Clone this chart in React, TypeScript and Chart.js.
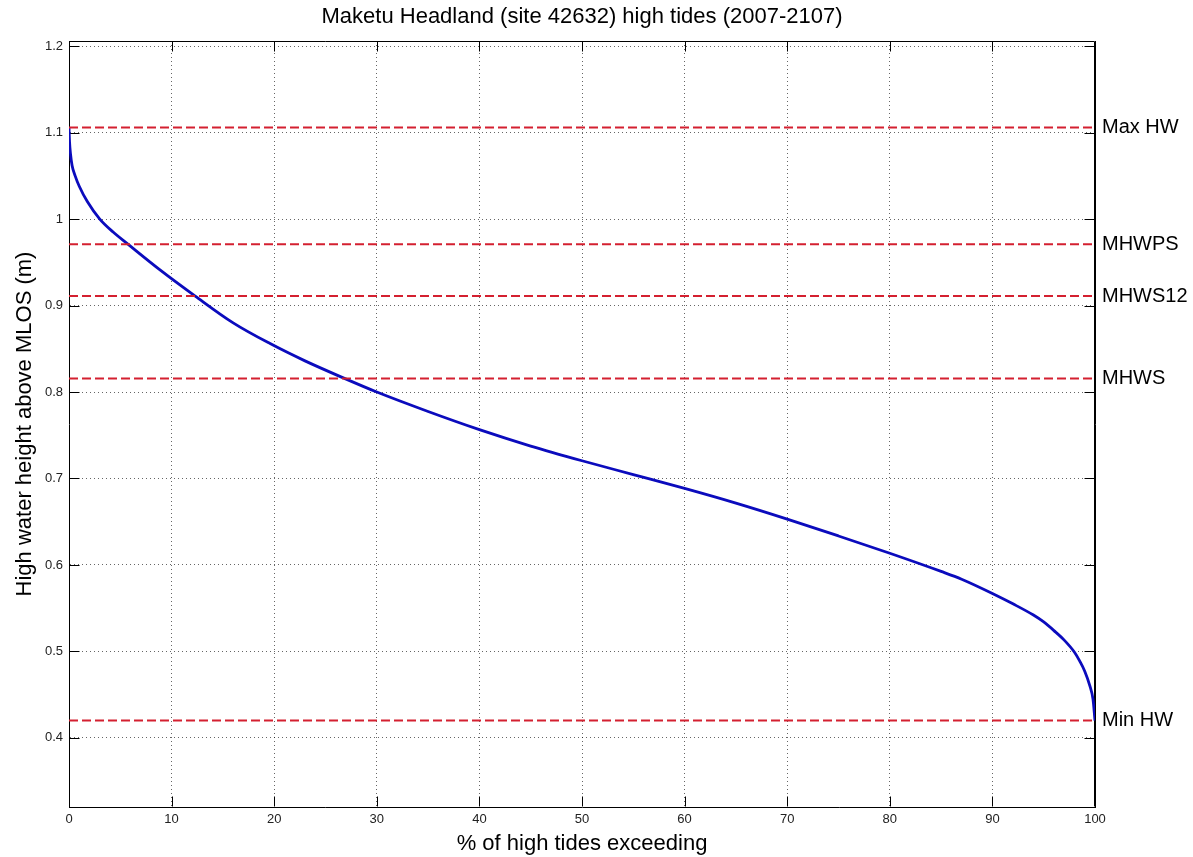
import React, { useEffect, useRef } from 'react';
import { Chart, registerables } from 'chart.js';

Chart.register(...registerables);

// ---- Data ----
const chartTitle = 'Maketu Headland (site 42632) high tides (2007-2107)';
const xAxisTitle = '% of high tides exceeding';
const yAxisTitle = 'High water height above MLOS (m)';

// exceedance curve (percent of high tides exceeding, height in m)
const exceedPct = [
  0, 0.05, 0.15, 0.3, 0.6, 1.0, 1.8, 3.0, 4.3, 5.8, 8.9, 12.3, 16, 19.6, 23, 26.9,
  30, 35, 40, 45, 50, 55, 60, 65, 70, 75, 80, 85, 87, 90, 92, 94, 95, 96, 97, 98,
  98.5, 99, 99.5, 99.8, 100,
];
const highWater = [
  1.106, 1.09, 1.075, 1.062, 1.05, 1.038, 1.02, 1.0, 0.985, 0.9705, 0.941, 0.911,
  0.88, 0.856, 0.836, 0.8155, 0.8, 0.7775, 0.7565, 0.7375, 0.7205, 0.7045, 0.6885,
  0.6715, 0.653, 0.6335, 0.6135, 0.5925, 0.5835, 0.567, 0.555, 0.542, 0.534, 0.524,
  0.513, 0.499, 0.489, 0.477, 0.46, 0.445, 0.42,
];

// reference tide levels
const refLabels = ['Min HW', 'MHWS', 'MHWS12', 'MHWPS', 'Max HW'];
const refLevels = [0.42, 0.8155, 0.911, 0.971, 1.106];

// axes
const xMin = 0;
const xMax = 100;
const xStep = 10;
const yMin = 0.32;
const yMax = 1.206;
const yStep = 0.1;

const FONT = '"Liberation Sans", Arial, Helvetica, sans-serif';

const framePlugin = {
  id: 'matlabFrame',
  beforeDatasetsDraw(chart: any) {
    const { ctx, chartArea: a, scales } = chart;
    const L = Math.round(a.left) + 0.5;
    const R = Math.round(a.right) - 0.5;
    const T = Math.round(a.top) + 0.5;
    const B = Math.round(a.bottom) - 0.5;
    const tick = 10;
    ctx.save();
    ctx.strokeStyle = '#000';
    ctx.lineWidth = 1;
    ctx.beginPath();
    ctx.moveTo(L, T);
    ctx.lineTo(R, T);
    ctx.lineTo(R, B);
    ctx.stroke();
    ctx.beginPath();
    for (const t of scales.x.ticks) {
      const px = Math.round(scales.x.getPixelForValue(t.value)) + 0.5;
      ctx.moveTo(px, B);
      ctx.lineTo(px, B - tick);
      ctx.moveTo(px, T);
      ctx.lineTo(px, T + tick);
    }
    for (const t of scales.y.ticks) {
      const py = Math.round(scales.y.getPixelForValue(t.value)) + 0.5;
      ctx.moveTo(L, py);
      ctx.lineTo(L + tick, py);
      ctx.moveTo(R, py);
      ctx.lineTo(R - tick, py);
    }
    ctx.stroke();
    ctx.restore();
  },
};

export default function App() {
  const canvasRef = useRef<HTMLCanvasElement | null>(null);

  useEffect(() => {
    const canvas = canvasRef.current;
    if (!canvas) return;
    Chart.defaults.font.family = FONT;

    const curve = exceedPct.map((x, i) => ({ x, y: highWater[i] }));
    const refSets = refLevels.map((v, i) => ({
      label: refLabels[i],
      data: [
        { x: xMin, y: v },
        { x: xMax, y: v },
      ],
      borderColor: '#d42030',
      borderWidth: 2,
      borderDash: [9, 4],
      pointRadius: 0,
      showLine: true,
      fill: false,
      xAxisID: 'x',
      yAxisID: 'y',
    }));

    const chart = new Chart(canvas, {
      type: 'scatter',
      data: {
        datasets: [
          ...refSets,
          {
            label: 'High tides',
            data: curve,
            borderColor: '#0b0bbd',
            borderWidth: 2.8,
            pointRadius: 0,
            showLine: true,
            fill: false,
            cubicInterpolationMode: 'monotone',
            xAxisID: 'x',
            yAxisID: 'y',
          } as any,
        ],
      },
      options: {
        responsive: false,
        animation: false,
        devicePixelRatio: 1,
        layout: { padding: 0 },
        plugins: {
          legend: { display: false },
          tooltip: { enabled: false },
          title: {
            display: true,
            text: chartTitle,
            fullSize: false,
            color: '#000',
            font: { size: 22, weight: 'normal', family: FONT },
            padding: { top: 4, bottom: 10.6 },
          },
        },
        scales: {
          x: {
            type: 'linear',
            min: xMin,
            max: xMax,
            afterFit: (s: any) => {
              s.height = 50;
            },
            ticks: {
              stepSize: xStep,
              color: '#222',
              font: { size: 13, family: FONT },
              padding: 5,
              maxRotation: 0,
              autoSkip: false,
            },
            grid: {
              color: 'rgba(0,0,0,0.6)',
              lineWidth: 1,
              drawTicks: false,
            },
            border: { display: true, color: '#000', width: 1, dash: [1, 3] },
            title: {
              display: true,
              text: xAxisTitle,
              color: '#000',
              font: { size: 22, family: FONT },
              padding: { top: 0, bottom: 0 },
            },
          },
          y: {
            type: 'linear',
            position: 'left',
            min: yMin,
            max: yMax,
            afterFit: (s: any) => {
              s.width = 69;
            },
            ticks: {
              stepSize: yStep,
              includeBounds: false,
              color: '#222',
              font: { size: 13, family: FONT },
              padding: 6,
              autoSkip: false,
              callback: (v: any) => String(Math.round(Number(v) * 10) / 10),
            },
            grid: {
              color: 'rgba(0,0,0,0.6)',
              lineWidth: 1,
              drawTicks: false,
            },
            border: { display: true, color: '#000', width: 1, dash: [1, 3] },
            title: {
              display: true,
              text: yAxisTitle,
              color: '#000',
              font: { size: 22, family: FONT },
              padding: { top: 12, bottom: 0 },
            },
          },
          y2: {
            type: 'linear',
            position: 'right',
            min: yMin,
            max: yMax,
            afterFit: (s: any) => {
              s.width = 98;
            },
            afterBuildTicks: (s: any) => {
              s.ticks = refLevels.map((v) => ({ value: v }));
            },
            ticks: {
              color: '#000',
              font: { size: 20, family: FONT },
              padding: 7,
              autoSkip: false,
              callback: (_v: any, i: number) => refLabels[i],
            },
            grid: { display: false, drawTicks: false },
            border: { display: true, color: '#000', width: 1 },
          },
        },
      },
      plugins: [framePlugin],
    } as any);

    return () => chart.destroy();
  }, []);

  return (
    <div style={{ position: 'absolute', left: 0, top: 0, width: 1193, height: 857, background: '#fff' }}>
      <canvas ref={canvasRef} width={1193} height={857} style={{ display: 'block', width: 1193, height: 857 }} />
    </div>
  );
}
